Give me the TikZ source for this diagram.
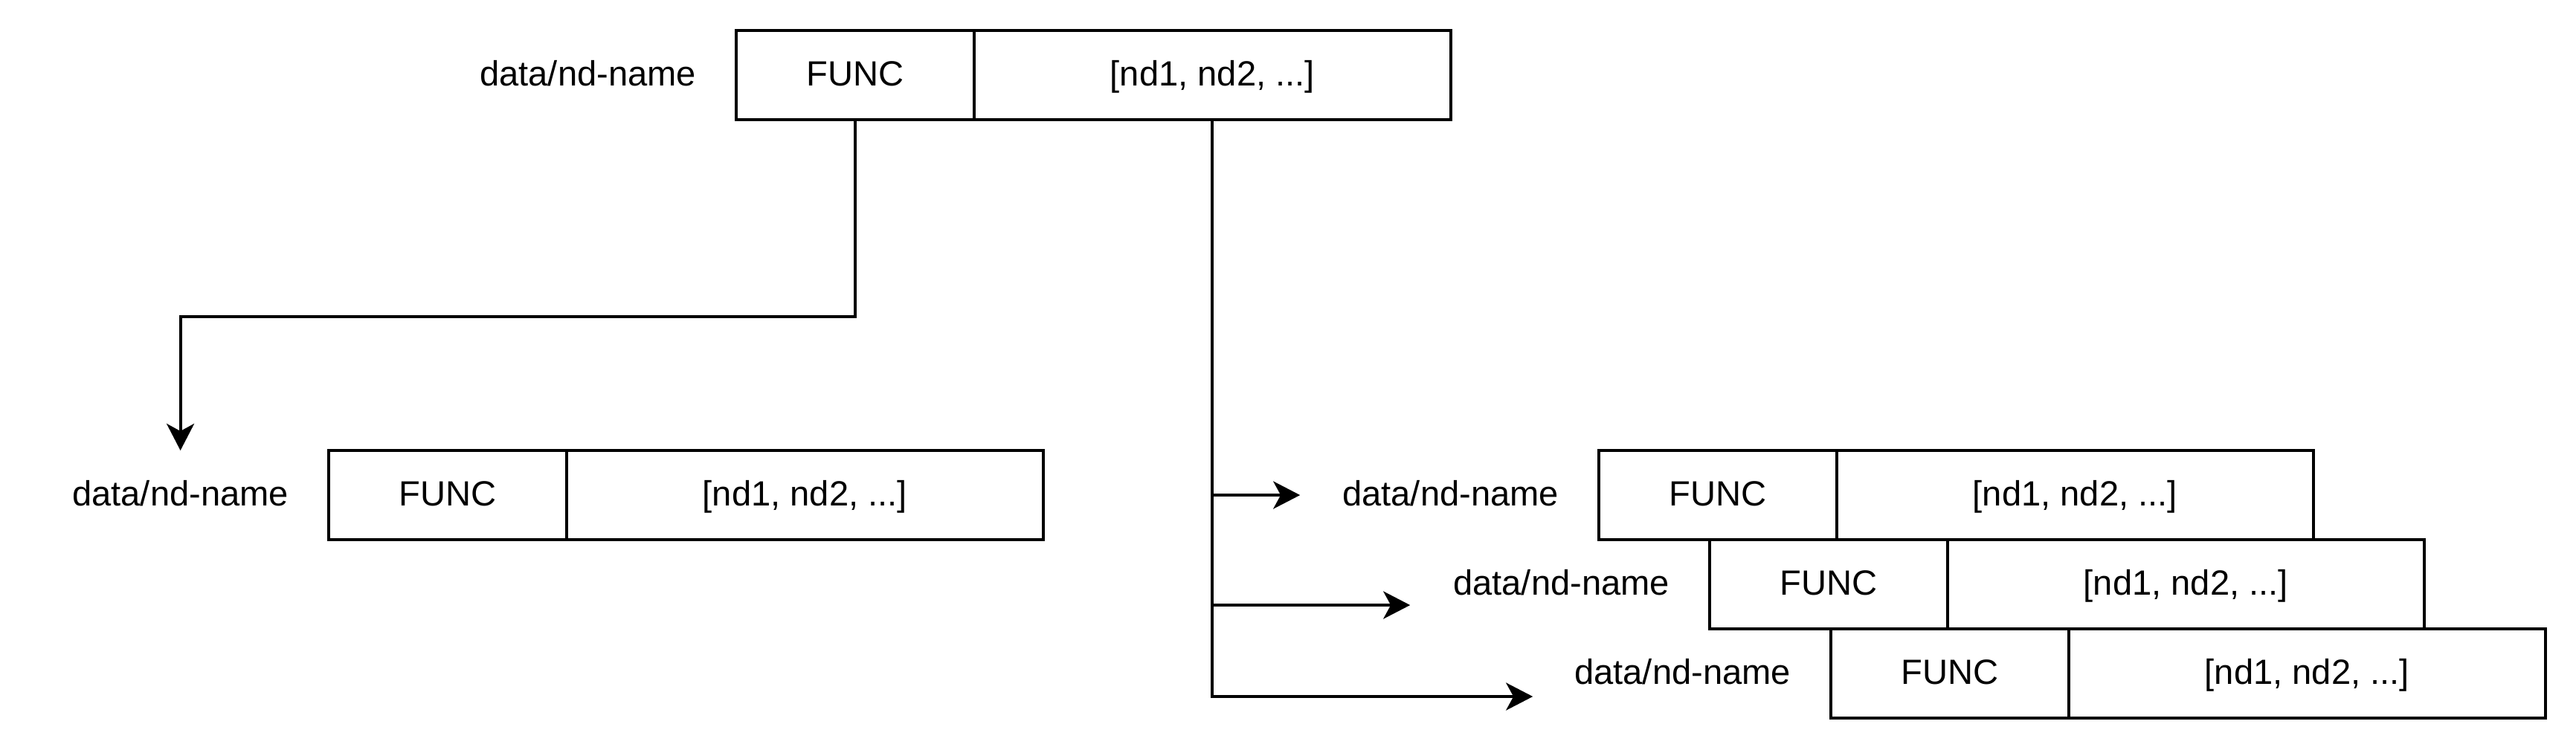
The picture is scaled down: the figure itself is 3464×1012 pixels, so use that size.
\documentclass[tikz,border=0pt]{standalone}
\usepackage{fontspec}
\setmainfont{Liberation Sans}
\usetikzlibrary{arrows.meta}
\begin{document}
\begin{tikzpicture}[x=0.01cm,y=-0.01cm,
  every node/.style={font=\fontsize{13.4pt}{16pt}\selectfont, inner sep=0pt, outer sep=0pt, text height=0.38cm, text depth=0.1cm},
  fcell/.style={draw, line width=1.1pt, minimum width=3.2cm, minimum height=1.2cm},
  lcell/.style={draw, line width=1.1pt, minimum width=6.4cm, minimum height=1.2cm},
  lbl/.style={minimum height=1.2cm, anchor=east},
  conn/.style={line width=1.1pt},
  arr/.style={conn, -{Stealth[length=0.36cm, width=0.37cm, inset=0.1cm]}}
]
\path[use as bounding box, fill=white] (0,0) rectangle (3464,1012);

% top record
\node[fcell, anchor=north west] (tf) at (990,41) {FUNC};
\node[lcell, anchor=west] (tl) at (tf.east) {[nd1, nd2, ...]};
\node[lbl] (t0) at ([shift={(-54,0)}]tf.west) {data/nd-name};

% left record
\node[fcell, anchor=north west] (lf) at (442,606) {FUNC};
\node[lcell, anchor=west] (ll) at (lf.east) {[nd1, nd2, ...]};
\node[lbl] (l0) at ([shift={(-54,0)}]lf.west) {data/nd-name};

% right records
\node[fcell, anchor=north west] (af) at (2150,606) {FUNC};
\node[lcell, anchor=west] (al) at (af.east) {[nd1, nd2, ...]};
\node[lbl] (a0) at ([shift={(-54,0)}]af.west) {data/nd-name};

\node[fcell, anchor=north west] (bf) at (2299,726) {FUNC};
\node[lcell, anchor=west] (bl) at (bf.east) {[nd1, nd2, ...]};
\node[lbl] (b0) at ([shift={(-54,0)}]bf.west) {data/nd-name};

\node[fcell, anchor=north west] (cf) at (2462,846) {FUNC};
\node[lcell, anchor=west] (cl) at (cf.east) {[nd1, nd2, ...]};
\node[lbl] (c0) at ([shift={(-54,0)}]cf.west) {data/nd-name};

% connectors
\coordinate (bendL) at (0,426);
\draw[arr] (tf.south) -- (tf.south |- bendL) -| (l0.north);

\coordinate (tipA) at ([shift={(-57,0)}]a0.west);
\coordinate (tipB) at ([shift={(-58,28)}]b0.west);
\coordinate (tipC) at ([shift={(-56,31)}]c0.west);
\draw[arr] (tl.south) |- (tipC);
\draw[arr] (tl.south |- tipA) -- (tipA);
\draw[arr] (tl.south |- tipB) -- (tipB);
\end{tikzpicture}
\end{document}
